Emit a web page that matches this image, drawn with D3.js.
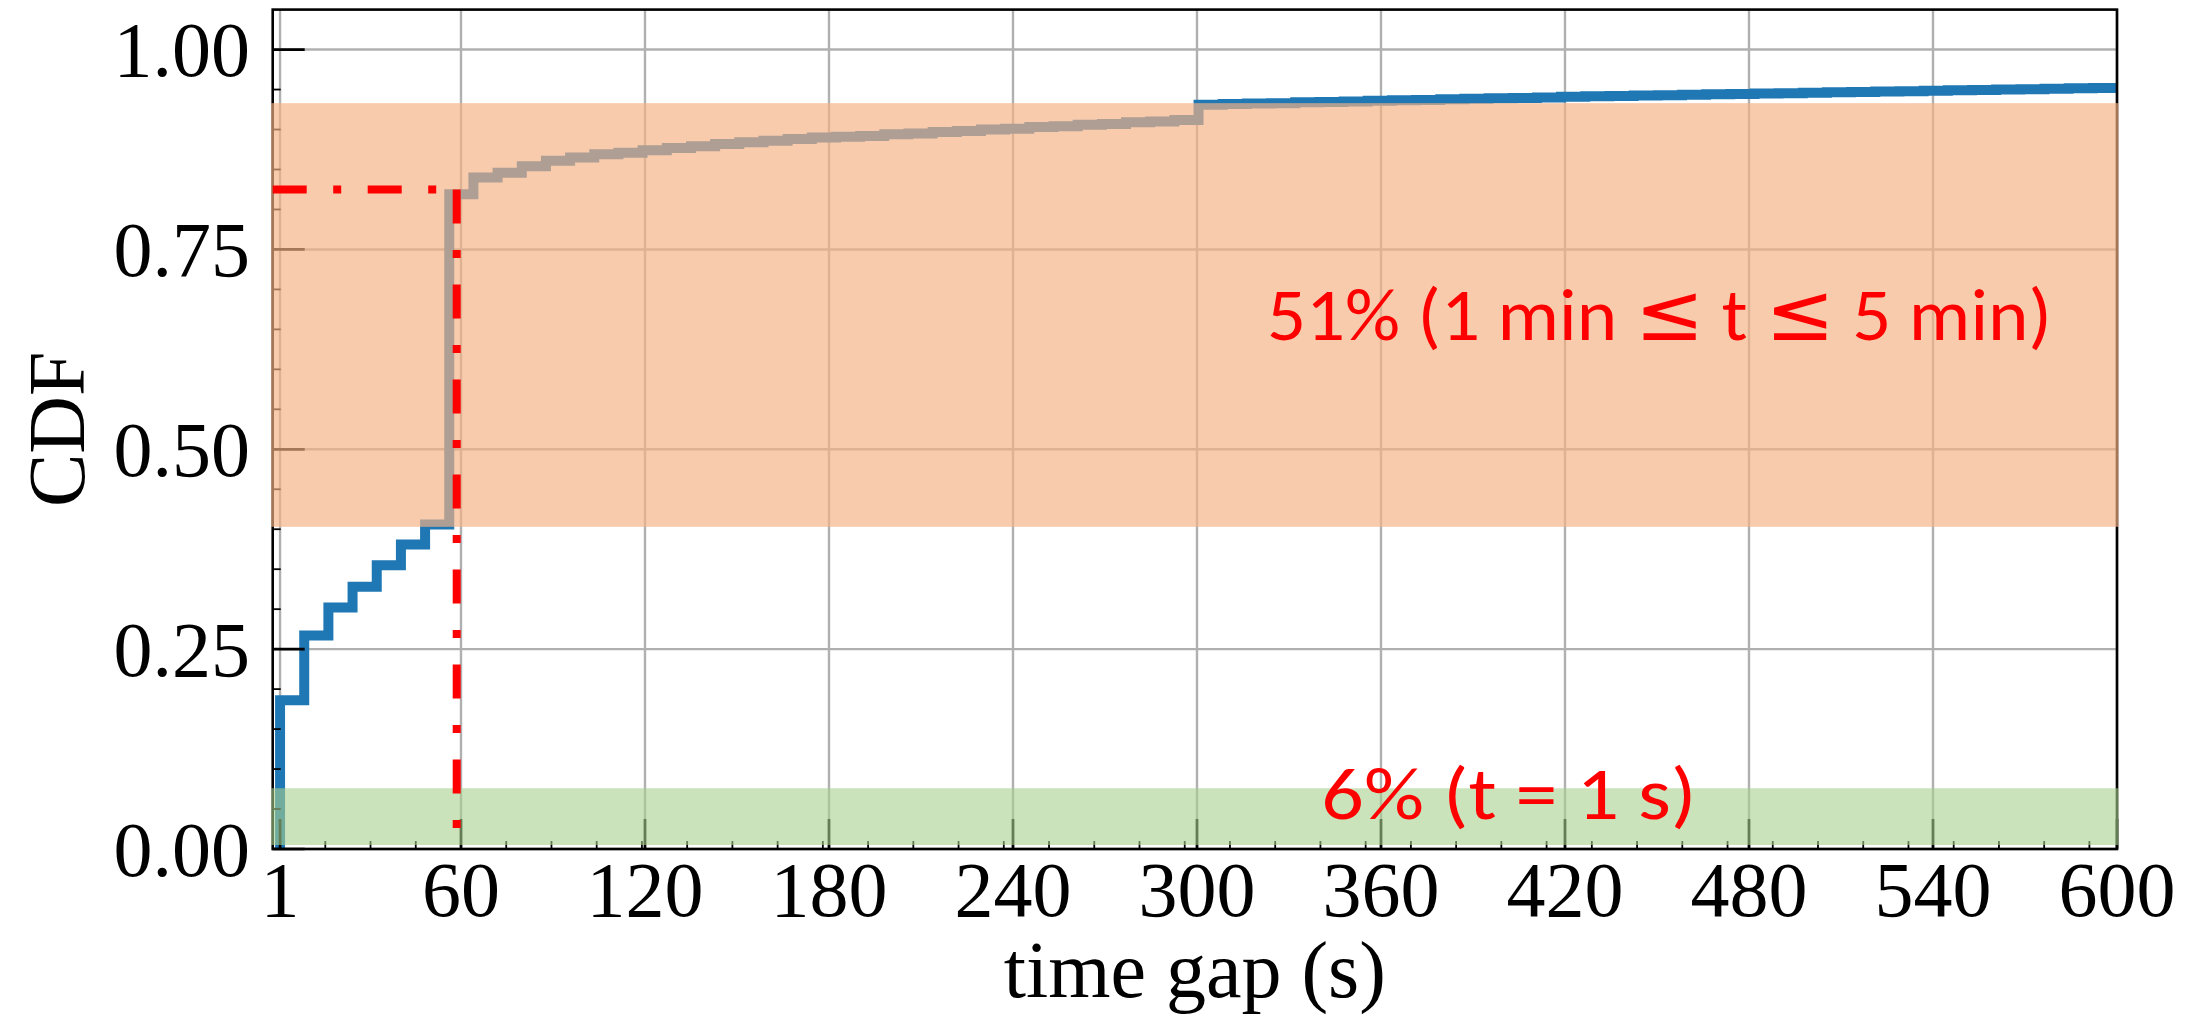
<!DOCTYPE html>
<html>
<head>
<meta charset="utf-8">
<script src="https://cdn.jsdelivr.net/npm/d3@7"></script>
<style>
  body { margin: 0; background: #fff; }
</style>
</head>
<body>
<script>
// bin edges of the cumulative histogram (time gap, s)
var binEdges = [1, 8.88, 16.76, 24.64, 32.53, 40.41, 48.29, 56.17, 64.05, 71.93,
  79.82, 87.70, 95.58, 103.46, 111.34, 119.22, 127.11, 134.99, 142.87, 150.75,
  158.63, 166.51, 174.40, 182.28, 190.16, 198.04, 205.92, 213.80, 221.68, 229.57,
  237.45, 245.33, 253.21, 261.09, 268.97, 276.86, 284.74, 292.62, 300.50, 308.38,
  316.26, 324.15, 332.03, 339.91, 347.79, 355.67, 363.55, 371.43, 379.32, 387.20,
  395.08, 402.96, 410.84, 418.72, 426.61, 434.49, 442.37, 450.25, 458.13, 466.01,
  473.89, 481.78, 489.66, 497.54, 505.42, 513.30, 521.18, 529.07, 536.95, 544.83,
  552.71, 560.59, 568.47, 576.36, 584.24, 592.12, 600];

// CDF value held over each bin
var cdfValues = [0.186, 0.267, 0.302, 0.328, 0.355, 0.381, 0.406, 0.819, 0.840, 0.846,
  0.854, 0.861, 0.865, 0.869, 0.871, 0.874, 0.877, 0.879, 0.882, 0.884,
  0.886, 0.888, 0.890, 0.891, 0.892, 0.894, 0.895, 0.897, 0.898, 0.900,
  0.901, 0.903, 0.904, 0.906, 0.907, 0.909, 0.910, 0.912, 0.931, 0.932,
  0.9325, 0.933, 0.934, 0.9345, 0.935, 0.936, 0.9365, 0.937, 0.938, 0.9385,
  0.939, 0.9395, 0.940, 0.941, 0.9415, 0.942, 0.9425, 0.943, 0.9435, 0.944,
  0.9445, 0.945, 0.9455, 0.946, 0.9465, 0.947, 0.9475, 0.948, 0.9485, 0.949,
  0.9495, 0.950, 0.9505, 0.951, 0.9515, 0.952];

var xTicks = [1, 60, 120, 180, 240, 300, 360, 420, 480, 540, 600];
var yTicks = [0, 0.25, 0.5, 0.75, 1.0];
var yTickLabels = ["0.00", "0.25", "0.50", "0.75", "1.00"];

// shaded CDF ranges and their notes
var bandLow = [0.403, 0.005];
var bandHigh = [0.933, 0.076];
var bandLabels = ["51% (1 min \u2264 t \u2264 5 min)", "6% (t = 1 s)"];

// red guide: gap just under one minute and its CDF
var guideX = 58.6;
var guideY = 0.825;

var width = 2201, height = 1016;

var svg = d3.select("body").append("svg")
    .attr("width", width)
    .attr("height", height);

var x = d3.scaleLinear().domain([-1.4, 600]).range([272.7, 2117]);
var y = d3.scaleLinear().domain([0, 1.05]).range([849, 9.6]);

var serif = "'Liberation Serif', 'Times New Roman', serif";

svg.append("defs").append("clipPath").attr("id", "plotclip")
  .append("rect")
    .attr("x", x.range()[0]).attr("y", y.range()[1])
    .attr("width", x.range()[1] - x.range()[0])
    .attr("height", y.range()[0] - y.range()[1]);

//grid lines
var grid = svg.append("g").attr("stroke", "#b0b0b0").attr("stroke-width", 2.4);
grid.selectAll("line.gx").data(xTicks).enter().append("line")
    .attr("x1", d => x(d)).attr("x2", d => x(d))
    .attr("y1", y.range()[0]).attr("y2", y.range()[1]);
grid.selectAll("line.gy").data(yTicks).enter().append("line")
    .attr("y1", d => y(d)).attr("y2", d => y(d))
    .attr("x1", x.range()[0]).attr("x2", x.range()[1]);

//step line
var pts = [{x: binEdges[0], y: 0}];
cdfValues.forEach(function(v, i){ pts.push({x: binEdges[i], y: v}); });
pts.push({x: binEdges[binEdges.length - 1], y: cdfValues[cdfValues.length - 1]});

var line = d3.line().x(d => x(d.x)).y(d => y(d.y)).curve(d3.curveStepAfter);
svg.append("path")
    .datum(pts)
    .attr("clip-path", "url(#plotclip)")
    .attr("fill", "none")
    .attr("stroke", "#1f77b4")
    .attr("stroke-width", 10)
    .attr("stroke-linejoin", "miter")
    .attr("d", line);

//axes: ticks inward on bottom and left
var xMinor = d3.range(1, 41).map(k => 1 + k * 14.75).filter(v => xTicks.indexOf(v) < 0);
var yMinor = d3.range(1, 21).map(k => k * 0.05).filter(v => Math.abs(v * 4 - Math.round(v * 4)) > 1e-6);

var ax = svg.append("g").attr("stroke", "#000");
ax.selectAll("line.xmaj").data(xTicks).enter().append("line")
    .attr("x1", d => x(d)).attr("x2", d => x(d))
    .attr("y1", y(0)).attr("y2", y(0) - 30).attr("stroke-width", 2.7);
ax.selectAll("line.xmin").data(xMinor).enter().append("line")
    .attr("x1", d => x(d)).attr("x2", d => x(d))
    .attr("y1", y(0)).attr("y2", y(0) - 8).attr("stroke-width", 1.8);
ax.selectAll("line.ymaj").data(yTicks).enter().append("line")
    .attr("y1", d => y(d)).attr("y2", d => y(d))
    .attr("x1", x.range()[0]).attr("x2", x.range()[0] + 32).attr("stroke-width", 2.7);
ax.selectAll("line.ymin").data(yMinor).enter().append("line")
    .attr("y1", d => y(d)).attr("y2", d => y(d))
    .attr("x1", x.range()[0]).attr("x2", x.range()[0] + 8).attr("stroke-width", 1.8);

svg.append("rect")
    .attr("x", x.range()[0]).attr("y", y.range()[1])
    .attr("width", x.range()[1] - x.range()[0])
    .attr("height", y.range()[0] - y.range()[1])
    .attr("fill", "none").attr("stroke", "#000").attr("stroke-width", 2.6);

//shaded bands lie over everything drawn so far
var bandColors = ["#F4B183", "#A9D18E"];
var bandOpacity = [0.67, 0.6];
svg.selectAll("rect.band").data(bandLow).enter().append("rect")
    .attr("class", "band")
    .attr("x", x.range()[0] - 1.5)
    .attr("width", x.range()[1] - x.range()[0] + 3)
    .attr("y", (d, i) => y(bandHigh[i]))
    .attr("height", (d, i) => y(d) - y(bandHigh[i]))
    .attr("fill", (d, i) => bandColors[i])
    .attr("fill-opacity", (d, i) => bandOpacity[i]);

//red dash-dot guides
var guides = svg.append("g")
    .attr("stroke", "#ff0000").attr("stroke-width", 8)
    .attr("stroke-dasharray", "34 26.5 8 26.5").attr("fill", "none");
guides.append("line")
    .attr("x1", x.range()[0]).attr("x2", x(guideX))
    .attr("y1", y(guideY)).attr("y2", y(guideY));
guides.append("line")
    .attr("x1", x(guideX)).attr("x2", x(guideX))
    .attr("y1", y(guideY)).attr("y2", y(0));

//tick labels
svg.selectAll("text.xl").data(xTicks).enter().append("text")
    .attr("x", d => x(d)).attr("y", 916)
    .attr("text-anchor", "middle")
    .attr("font-family", serif).attr("font-size", 78)
    .text(d => d);
svg.selectAll("text.yl").data(yTicks).enter().append("text")
    .attr("x", 250).attr("y", d => y(d) + 26.5)
    .attr("text-anchor", "end")
    .attr("font-family", serif).attr("font-size", 78)
    .text((d, i) => yTickLabels[i]);

//axis titles
svg.append("text")
    .attr("x", (x.range()[0] + x.range()[1]) / 2).attr("y", 997)
    .attr("text-anchor", "middle")
    .attr("font-family", serif).attr("font-size", 80)
    .text("time gap (s)");
svg.append("text")
    .attr("transform", "translate(84," + ((y.range()[0] + y.range()[1]) / 2) + ") rotate(-90)")
    .attr("text-anchor", "middle")
    .attr("font-family", serif).attr("font-size", 80)
    .text("CDF");

//band notes; the "≤" sign gets a fuller glyph
var noteX = [450.8, 401.7], noteY = [0.637, 0.0375], noteLen = [785, 375];
var notes = svg.selectAll("text.note").data(bandLabels).enter().append("text")
    .attr("x", (d, i) => x(noteX[i])).attr("y", (d, i) => y(noteY[i]))
    .attr("text-anchor", "middle")
    .attr("font-family", "Carlito, Calibri, Lato, 'Noto Sans', sans-serif")
    .attr("font-size", 74)
    .attr("fill", "#ff0000")
    .attr("textLength", (d, i) => noteLen[i])
    .attr("lengthAdjust", "spacingAndGlyphs");
notes.each(function(d){
  var t = d3.select(this);
  d.split(/(\u2264)/).forEach(function(part){
    if (!part) return;
    var ts = t.append("tspan").text(part);
    if (part === "\u2264") ts.attr("font-family", "'DejaVu Sans', sans-serif").attr("font-size", 80);
  });
});
</script>
</body>
</html>
